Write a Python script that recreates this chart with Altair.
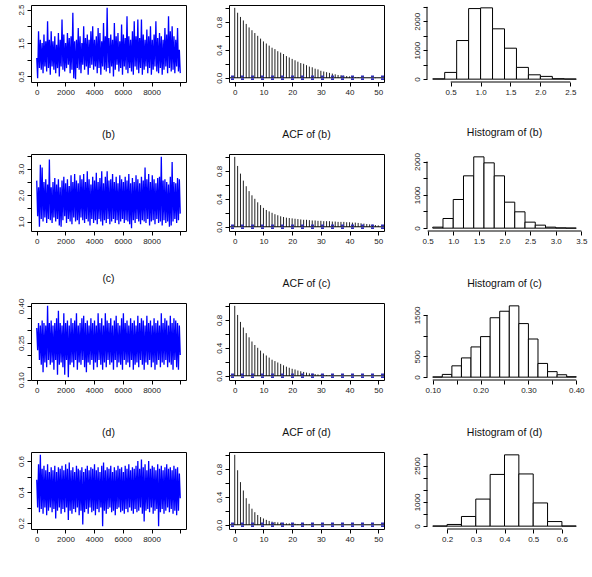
import altair as alt
import pandas as pd

FONT = "Liberation Sans"
W, H = 155, 77
N_ITER = 10000

# ---- MCMC chains: alternating upper / lower excursions along the 10000 iterations ----
trace_a_upper = [1.05, 1.85, 1.6, 1.5, 1.75, 1.55, 2.15, 1.6, 1.85, 1.55,
                 1.7, 1.45, 1.8, 1.6, 2.2, 1.75, 1.5, 1.8, 1.65, 1.7,
                 2.4, 1.55, 1.6, 1.95, 1.7, 1.5, 2.0, 1.65, 1.75, 1.6,
                 1.85, 2.0, 1.6, 1.7, 1.95, 1.8, 1.55, 2.1, 1.7, 2.55,
                 1.65, 1.75, 1.6, 2.1, 1.7, 1.8, 1.55, 2.05, 1.75, 1.65,
                 2.3, 1.7, 1.6, 1.85, 2.15, 1.7, 2.2, 1.65, 2.2, 1.75,
                 1.6, 1.9, 1.7, 2.0, 1.6, 1.75, 2.15, 1.65, 1.8, 1.7,
                 1.6, 1.95, 1.75, 2.3, 1.85, 2.0, 1.7, 1.6, 1.95, 1.3]
trace_a_lower = [0.45, 0.75, 0.7, 0.6, 0.8, 0.65, 0.75, 0.55, 0.8, 0.7,
                 0.6, 0.75, 0.5, 0.8, 0.7, 0.65, 0.75, 0.85, 0.6, 0.7,
                 0.45, 0.42, 0.75, 0.7, 0.6, 0.85, 0.7, 0.8, 0.55, 0.75,
                 0.85, 0.7, 0.8, 0.6, 0.75, 0.55, 0.8, 0.7, 0.65, 0.75,
                 0.6, 0.8, 0.5, 0.7, 0.85, 0.65, 0.75, 0.55, 0.8, 0.7,
                 0.6, 0.75, 0.65, 0.55, 0.8, 0.7, 0.6, 0.75, 0.55, 0.7,
                 0.8, 0.6, 0.75, 0.55, 0.7, 0.8, 0.65, 0.6, 0.75, 0.55,
                 0.7, 0.8, 0.6, 0.75, 0.65, 0.7, 0.6, 0.8, 0.65, 0.6]

trace_b_upper = [2.55, 2.3, 3.15, 3.05, 2.5, 2.6, 2.4, 3.35, 2.3, 2.5,
                 2.65, 2.4, 2.6, 2.3, 2.55, 2.7, 2.45, 2.6, 2.35, 2.75,
                 2.5, 2.8, 2.55, 2.45, 2.75, 2.6, 2.8, 2.5, 2.9, 2.6,
                 2.4, 2.7, 2.55, 2.85, 2.5, 2.65, 2.9, 2.45, 2.7, 2.9,
                 2.55, 2.6, 2.8, 2.5, 2.7, 2.45, 2.75, 2.6, 2.5, 2.7,
                 2.55, 2.8, 2.45, 2.65, 2.5, 2.75, 2.6, 2.45, 2.7, 2.55,
                 3.05, 2.6, 2.8, 2.5, 2.75, 2.6, 2.45, 2.65, 2.7, 3.45,
                 2.55, 2.6, 2.5, 2.4, 2.7, 3.25, 2.5, 2.45, 2.65, 2.6]
trace_b_lower = [1.2, 0.8, 1.1, 1.0, 1.15, 0.95, 1.1, 1.05, 0.95, 1.15,
                 1.0, 1.1, 0.85, 0.8, 1.05, 1.2, 0.95, 1.1, 1.0, 0.9,
                 1.15, 1.0, 1.05, 0.9, 1.15, 1.05, 0.95, 1.1, 1.0, 0.85,
                 1.1, 0.95, 1.05, 0.9, 1.1, 1.0, 0.85, 1.05, 0.95, 1.1,
                 0.9, 1.0, 1.1, 0.95, 1.05, 0.9, 1.0, 1.1, 0.95, 1.05,
                 1.0, 0.9, 0.75, 1.05, 0.95, 1.1, 1.0, 0.9, 1.05, 1.0,
                 0.95, 1.1, 0.85, 1.0, 1.05, 0.9, 1.1, 0.95, 1.0, 0.85,
                 1.05, 0.95, 1.0, 0.8, 0.85, 1.0, 1.1, 0.95, 1.05, 1.3]

trace_c_upper = [0.31, 0.33, 0.32, 0.34, 0.33, 0.32, 0.40, 0.33, 0.34, 0.32,
                 0.33, 0.35, 0.38, 0.33, 0.32, 0.37, 0.33, 0.34, 0.32, 0.35,
                 0.33, 0.34, 0.37, 0.32, 0.33, 0.35, 0.36, 0.33, 0.34, 0.32,
                 0.35, 0.33, 0.34, 0.32, 0.37, 0.33, 0.35, 0.32, 0.37, 0.34,
                 0.33, 0.35, 0.32, 0.34, 0.36, 0.33, 0.32, 0.35, 0.37, 0.33,
                 0.34, 0.32, 0.35, 0.33, 0.34, 0.32, 0.36, 0.33, 0.35, 0.34,
                 0.32, 0.36, 0.33, 0.34, 0.32, 0.35, 0.33, 0.34, 0.32, 0.37,
                 0.33, 0.35, 0.34, 0.32, 0.36, 0.33, 0.35, 0.34, 0.33, 0.32]
trace_c_lower = [0.22, 0.18, 0.16, 0.13, 0.17, 0.15, 0.18, 0.16, 0.17, 0.14,
                 0.18, 0.12, 0.16, 0.17, 0.15, 0.12, 0.18, 0.11, 0.16, 0.17,
                 0.15, 0.18, 0.14, 0.17, 0.16, 0.18, 0.15, 0.13, 0.17, 0.16,
                 0.18, 0.14, 0.17, 0.15, 0.18, 0.16, 0.14, 0.17, 0.15, 0.18,
                 0.16, 0.17, 0.14, 0.18, 0.15, 0.17, 0.16, 0.14, 0.18, 0.16,
                 0.17, 0.15, 0.18, 0.14, 0.16, 0.17, 0.15, 0.18, 0.16, 0.14,
                 0.17, 0.16, 0.18, 0.15, 0.17, 0.14, 0.16, 0.18, 0.15, 0.17,
                 0.16, 0.18, 0.15, 0.17, 0.16, 0.14, 0.18, 0.15, 0.14, 0.20]

trace_d_upper = [0.48, 0.58, 0.64, 0.55, 0.57, 0.54, 0.58, 0.53, 0.56, 0.54,
                 0.57, 0.53, 0.56, 0.55, 0.57, 0.54, 0.58, 0.55, 0.59, 0.54,
                 0.56, 0.53, 0.57, 0.55, 0.54, 0.56, 0.53, 0.55, 0.57, 0.54,
                 0.56, 0.55, 0.58, 0.54, 0.56, 0.53, 0.57, 0.59, 0.54, 0.56,
                 0.55, 0.57, 0.53, 0.56, 0.54, 0.57, 0.55, 0.56, 0.53, 0.57,
                 0.55, 0.58, 0.54, 0.56, 0.55, 0.57, 0.60, 0.55, 0.61, 0.56,
                 0.58, 0.54, 0.60, 0.55, 0.57, 0.56, 0.54, 0.58, 0.55, 0.57,
                 0.54, 0.56, 0.58, 0.55, 0.56, 0.54, 0.57, 0.55, 0.56, 0.52]
trace_d_lower = [0.30, 0.27, 0.29, 0.26, 0.30, 0.25, 0.28, 0.30, 0.27, 0.29,
                 0.23, 0.28, 0.30, 0.26, 0.29, 0.27, 0.30, 0.22, 0.28, 0.26,
                 0.29, 0.27, 0.30, 0.25, 0.28, 0.19, 0.27, 0.29, 0.26, 0.30,
                 0.27, 0.28, 0.25, 0.29, 0.27, 0.30, 0.18, 0.28, 0.26, 0.29,
                 0.30, 0.27, 0.28, 0.25, 0.29, 0.30, 0.27, 0.28, 0.26, 0.29,
                 0.27, 0.30, 0.28, 0.26, 0.29, 0.27, 0.28, 0.30, 0.26, 0.21,
                 0.28, 0.29, 0.27, 0.30, 0.26, 0.28, 0.29, 0.18, 0.27, 0.29,
                 0.26, 0.28, 0.30, 0.27, 0.29, 0.26, 0.28, 0.25, 0.28, 0.36]

# ---- autocorrelations, lags 0..50 ----
acf_a = [1.00, 0.93, 0.87, 0.82, 0.77, 0.72, 0.68, 0.64, 0.60, 0.56,
         0.52, 0.49, 0.46, 0.43, 0.41, 0.38, 0.36, 0.34, 0.31, 0.29,
         0.27, 0.25, 0.23, 0.21, 0.20, 0.18, 0.16, 0.15, 0.13, 0.12,
         0.10, 0.09, 0.08, 0.07, 0.06, 0.05, 0.04, 0.035, 0.03, 0.025,
         0.02, 0.015, 0.01, 0.01, 0.005, 0.005, 0.0, 0.0, 0.0, -0.005, 0.0]
acf_b = [1.00, 0.87, 0.76, 0.66, 0.58, 0.51, 0.45, 0.40, 0.35, 0.31,
         0.27, 0.24, 0.22, 0.20, 0.18, 0.165, 0.15, 0.14, 0.13, 0.125,
         0.12, 0.115, 0.11, 0.105, 0.10, 0.10, 0.095, 0.09, 0.09, 0.085,
         0.085, 0.08, 0.08, 0.08, 0.075, 0.075, 0.07, 0.07, 0.07, 0.065,
         0.065, 0.06, 0.06, 0.055, 0.05, 0.045, 0.04, 0.035, 0.03, 0.025, 0.02]
acf_c = [1.00, 0.87, 0.77, 0.69, 0.61, 0.55, 0.49, 0.44, 0.40, 0.36,
         0.32, 0.29, 0.26, 0.23, 0.21, 0.19, 0.17, 0.15, 0.13, 0.115,
         0.10, 0.09, 0.075, 0.065, 0.055, 0.045, 0.035, 0.03, 0.025, 0.02,
         0.015, 0.01, 0.01, 0.005, 0.005, 0.0, 0.0, 0.0, 0.0, 0.0,
         0.0, 0.0, 0.0, 0.0, 0.0, 0.0, 0.0, 0.0, 0.0, 0.0, 0.0]
acf_d = [1.00, 0.78, 0.61, 0.49, 0.38, 0.30, 0.23, 0.18, 0.14, 0.11,
         0.09, 0.07, 0.055, 0.045, 0.04, 0.035, 0.03, 0.025, 0.02, 0.02,
         0.015, 0.015, 0.01, 0.01, 0.01, 0.005, 0.005, 0.005, 0.0, 0.0,
         0.0, 0.0, 0.0, 0.0, 0.0, 0.0, 0.0, 0.0, 0.0, 0.0,
         0.0, 0.0, 0.0, 0.0, 0.0, 0.0, 0.0, 0.0, 0.0, 0.0, 0.0]
acf_band = 0.0196  # 2 / sqrt(10000)

# ---- histogram breaks and counts ----
hist_a_breaks = [0.2, 0.4, 0.6, 0.8, 1.0, 1.2, 1.4, 1.6, 1.8, 2.0, 2.2, 2.4, 2.6]
hist_a_counts = [10, 233, 1335, 2440, 2465, 1740, 1070, 407, 150, 95, 15, 5]
hist_b_breaks = [0.6, 0.8, 1.0, 1.2, 1.4, 1.6, 1.8, 2.0, 2.2, 2.4, 2.6, 2.8, 3.0, 3.2, 3.4]
hist_b_counts = [30, 290, 860, 1570, 2140, 1960, 1570, 780, 490, 180, 90, 30, 8, 2]
hist_c_breaks = [0.10, 0.12, 0.14, 0.16, 0.18, 0.20, 0.22, 0.24, 0.26, 0.28,
                 0.30, 0.32, 0.34, 0.36, 0.38, 0.40]
hist_c_counts = [5, 66, 273, 464, 729, 978, 1433, 1590, 1720, 1292, 920, 331, 133, 58, 10]
hist_d_breaks = [0.15, 0.20, 0.25, 0.30, 0.35, 0.40, 0.45, 0.50, 0.55, 0.60, 0.65]
hist_d_counts = [5, 70, 400, 1120, 2140, 2950, 2160, 960, 190, 5]

# ---- axis ticks (value -> printed label; unlabelled ticks are still drawn) ----
iter_ticks = [0, 2000, 4000, 6000, 8000, 10000]
iter_labels = {0: "0", 2000: "2000", 4000: "4000", 6000: "6000", 8000: "8000"}
lag_ticks = [0, 10, 20, 30, 40, 50]
lag_labels = {0: "0", 10: "10", 20: "20", 30: "30", 40: "40", 50: "50"}
acf_ticks = [0.0, 0.2, 0.4, 0.6, 0.8, 1.0]
acf_labels = {0.0: "0.0", 0.4: "0.4", 0.8: "0.8"}

trace_a_ticks = [0.5, 1.0, 1.5, 2.0, 2.5]
trace_a_labels = {0.5: "0.5", 1.5: "1.5", 2.5: "2.5"}
trace_b_ticks = [1.0, 1.5, 2.0, 2.5, 3.0, 3.5]
trace_b_labels = {1.0: "1.0", 2.0: "2.0", 3.0: "3.0"}
trace_c_ticks = [0.10, 0.15, 0.20, 0.25, 0.30, 0.35, 0.40]
trace_c_labels = {0.10: "0.10", 0.25: "0.25", 0.40: "0.40"}
trace_d_ticks = [0.2, 0.3, 0.4, 0.5, 0.6]
trace_d_labels = {0.2: "0.2", 0.4: "0.4", 0.6: "0.6"}

hist_a_xticks = [0.5, 1.0, 1.5, 2.0, 2.5]
hist_a_xlabels = {0.5: "0.5", 1.0: "1.0", 1.5: "1.5", 2.0: "2.0", 2.5: "2.5"}
hist_a_yticks = [0, 500, 1000, 1500, 2000, 2500]
hist_a_ylabels = {0: "0", 1000: "1000", 2000: "2000"}
hist_b_xticks = [0.5, 1.0, 1.5, 2.0, 2.5, 3.0, 3.5]
hist_b_xlabels = {0.5: "0.5", 1.0: "1.0", 1.5: "1.5", 2.0: "2.0", 2.5: "2.5", 3.0: "3.0", 3.5: "3.5"}
hist_b_yticks = [0, 500, 1000, 1500, 2000]
hist_b_ylabels = {0: "0", 1000: "1000", 2000: "2000"}
hist_c_xticks = [0.10, 0.15, 0.20, 0.25, 0.30, 0.35, 0.40]
hist_c_xlabels = {0.10: "0.10", 0.20: "0.20", 0.30: "0.30", 0.40: "0.40"}
hist_c_yticks = [0, 500, 1000, 1500]
hist_c_ylabels = {0: "0", 500: "500", 1500: "1500"}
hist_d_xticks = [0.2, 0.3, 0.4, 0.5, 0.6]
hist_d_xlabels = {0.2: "0.2", 0.3: "0.3", 0.4: "0.4", 0.5: "0.5", 0.6: "0.6"}
hist_d_yticks = [0, 500, 1000, 1500, 2000, 2500, 3000]
hist_d_ylabels = {0: "0", 1000: "1000", 2500: "2500"}


def label_expr(labels):
    parts = " : ".join(f"datum.value == {v} ? '{t}'" for v, t in labels.items())
    return parts + " : ''"


def r_axis(values, labels, left=False):
    kw = dict(values=values, labelExpr=label_expr(labels), title=None, grid=False,
              domain=False, ticks=True, tickSize=4, tickColor="#000", tickWidth=1,
              labelFontSize=8, labelFont=FONT, labelColor="#222", labelPadding=2,
              labelOverlap=False, labelFlush=False)
    if left:
        kw.update(labelAngle=270, labelAlign="center", labelBaseline="bottom")
    return alt.Axis(**kw)


def padded(lo, hi):
    d = 0.04 * (hi - lo)
    return [lo - d, hi + d]


def title_of(text):
    return alt.TitleParams(text=text, fontSize=10.5, font=FONT, fontWeight="normal",
                           color="#111", offset=14, frame="group", anchor="middle")


BOX = alt.ViewBackground(stroke="black", strokeWidth=1)


def trace_panel(upper, lower, yticks, ylabels, title=None):
    values = []
    for u, l in zip(upper, lower):
        values += [u, l]
    n = len(values)
    df = pd.DataFrame({"iter": [1 + i * (N_ITER - 1) / (n - 1) for i in range(n)],
                       "value": values})
    xs = alt.Scale(domain=padded(1, N_ITER), nice=False, zero=False)
    ys = alt.Scale(domain=padded(min(values), max(values)), nice=False, zero=False)
    ch = alt.Chart(df).mark_line(color="#0000ff", strokeWidth=1.3).encode(
        x=alt.X("iter:Q", scale=xs, axis=r_axis(iter_ticks, iter_labels)),
        y=alt.Y("value:Q", scale=ys, axis=r_axis(yticks, ylabels, left=True)),
    ).properties(width=W, height=H, view=BOX)
    if title:
        ch = ch.properties(title=title_of(title))
    return ch


def acf_panel(acf, title=None):
    df = pd.DataFrame({"lag": list(range(len(acf))), "acf": acf, "zero": [0.0] * len(acf)})
    xs = alt.Scale(domain=padded(0, len(acf) - 1), nice=False, zero=False)
    ys = alt.Scale(domain=padded(min(-acf_band, min(acf)), 1.0), nice=False, zero=False)
    xa = r_axis(lag_ticks, lag_labels)
    ya = r_axis(acf_ticks, acf_labels, left=True)
    bars = alt.Chart(df).mark_rule(color="#222", strokeWidth=1).encode(
        x=alt.X("lag:Q", scale=xs, axis=xa),
        y=alt.Y("zero:Q", scale=ys, axis=ya),
        y2="acf:Q",
    )
    zero = alt.Chart(pd.DataFrame({"v": [0.0]})).mark_rule(color="black", strokeWidth=1).encode(
        y=alt.Y("v:Q", scale=ys, axis=ya))
    band = alt.Chart(pd.DataFrame({"v": [acf_band, -acf_band]})).mark_rule(
        color="#3030b8", strokeWidth=1.7, strokeDash=[3, 7]).encode(
        y=alt.Y("v:Q", scale=ys, axis=ya))
    ch = alt.layer(bars, zero, band).properties(width=W, height=H, view=BOX)
    if title:
        ch = ch.properties(title=title_of(title))
    return ch


def hist_panel(breaks, counts, xticks, xlabels, yticks, ylabels, title=None):
    df = pd.DataFrame({"lo": breaks[:-1], "hi": breaks[1:], "count": counts,
                       "zero": [0] * len(counts)})
    xs = alt.Scale(domain=padded(breaks[0], breaks[-1]), nice=False, zero=False)
    ys = alt.Scale(domain=padded(0, max(counts)), nice=False, zero=False)
    xa = r_axis(xticks, xlabels)
    ya = r_axis(yticks, ylabels, left=True)
    bars = alt.Chart(df).mark_rect(fill="white", stroke="black", strokeWidth=1).encode(
        x=alt.X("lo:Q", scale=xs, axis=xa), x2="hi:Q",
        y=alt.Y("zero:Q", scale=ys, axis=ya), y2="count:Q",
    )
    xline = alt.Chart(pd.DataFrame({"a": [xticks[0]], "b": [xticks[-1]]})).mark_rule(
        color="black", strokeWidth=1).encode(
        x=alt.X("a:Q", scale=xs, axis=xa), x2="b:Q", y=alt.value(H))
    yline = alt.Chart(pd.DataFrame({"a": [yticks[0]], "b": [yticks[-1]]})).mark_rule(
        color="black", strokeWidth=1).encode(
        y=alt.Y("a:Q", scale=ys, axis=ya), y2="b:Q", x=alt.value(0))
    ch = alt.layer(bars, xline, yline).properties(width=W, height=H)
    if title:
        ch = ch.properties(title=title_of(title))
    return ch


panels = [
    trace_panel(trace_a_upper, trace_a_lower, trace_a_ticks, trace_a_labels),
    acf_panel(acf_a),
    hist_panel(hist_a_breaks, hist_a_counts, hist_a_xticks, hist_a_xlabels,
               hist_a_yticks, hist_a_ylabels),
    trace_panel(trace_b_upper, trace_b_lower, trace_b_ticks, trace_b_labels, "(b)"),
    acf_panel(acf_b, "ACF of (b)"),
    hist_panel(hist_b_breaks, hist_b_counts, hist_b_xticks, hist_b_xlabels,
               hist_b_yticks, hist_b_ylabels, "Histogram of (b)"),
    trace_panel(trace_c_upper, trace_c_lower, trace_c_ticks, trace_c_labels, "(c)"),
    acf_panel(acf_c, "ACF of (c)"),
    hist_panel(hist_c_breaks, hist_c_counts, hist_c_xticks, hist_c_xlabels,
               hist_c_yticks, hist_c_ylabels, "Histogram of (c)"),
    trace_panel(trace_d_upper, trace_d_lower, trace_d_ticks, trace_d_labels, "(d)"),
    acf_panel(acf_d, "ACF of (d)"),
    hist_panel(hist_d_breaks, hist_d_counts, hist_d_xticks, hist_d_xlabels,
               hist_d_yticks, hist_d_ylabels, "Histogram of (d)"),
]

chart = alt.concat(
    *panels, columns=3, spacing={"row": 72, "column": 43}, bounds="flush",
).properties(
    padding={"left": 16, "top": 3, "right": 5, "bottom": 5},
    background="white",
).configure_view(stroke=None)

chart.save("out.html", embed_options={"renderer": "svg", "actions": False})
